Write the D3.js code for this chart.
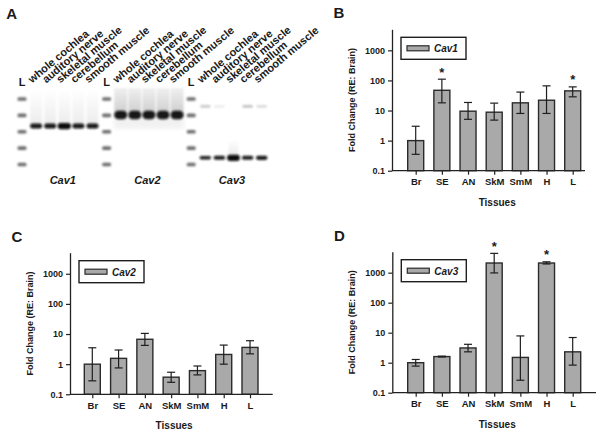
<!DOCTYPE html>
<html><head><meta charset="utf-8">
<script src="https://cdn.jsdelivr.net/npm/d3@7"></script>
<style>
body{margin:0;background:#fff}
svg{display:block}
text{font-family:Arial,"Liberation Sans",sans-serif;font-weight:bold;fill:#1a1a1a}
</style>
</head><body>
<svg id="c" width="604" height="436"></svg>
<script>
// ---------- data ----------
const tissues = ["Br","SE","AN","SkM","SmM","H","L"];

const cav1Mean = [1.0, 47, 9.5, 8.8, 18, 22, 45];
const cav1Low  = [0.35, 18, 5.1, 4.8, 8, 8, 28.5];
const cav1High = [3.0, 110, 18.5, 17.6, 41, 66, 61];
const cav1Sig  = [0, 1, 0, 0, 0, 0, 1];

const cav2Mean = [1.0, 1.56, 6.7, 0.37, 0.61, 2.1, 3.6];
const cav2Low  = [0.28, 0.75, 4.2, 0.25, 0.44, 1.0, 2.2];
const cav2High = [3.5, 2.95, 10.5, 0.54, 0.87, 4.3, 6.0];
const cav2Sig  = [0, 0, 0, 0, 0, 0, 0];

const cav3Mean = [1.0, 1.6, 3.1, 2100, 1.5, 2100, 2.3];
const cav3Low  = [0.77, 1.55, 2.3, 980, 0.26, 1950, 0.83];
const cav3High = [1.28, 1.65, 4.1, 4400, 7.8, 2300, 6.9];
const cav3Sig  = [0, 0, 0, 1, 0, 1, 0];

const yTicks = [0.1, 1, 10, 100, 1000];
const yTickLabels = ["0.1", "1", "10", "100", "1000"];

// gel data
const genes = ["Cav1", "Cav2", "Cav3"];
const laneLabels = ["whole cochlea", "auditory nerve", "skeletal muscle", "cerebellum", "smooth muscle"];
const ladderSizes = [500, 400, 300, 200, 100];
const productSize = [335, 402, 141];
const cav1Band = [1.0, 1.0, 1.25, 1.0, 1.0];
const cav2Band = [1.0, 1.0, 1.0, 1.0, 1.0];
const cav3Band = [0.8, 0.85, 1.4, 0.85, 0.95];
const cav3FaintSize = 455;
const cav3Faint = [0.22, 0.08, 0.0, 0.25, 0.15];

// ---------- drawing ----------
const svg = d3.select("#c");
const defs = svg.append("defs");
defs.append("filter").attr("id","blur").attr("x","-50%").attr("y","-100%").attr("width","200%").attr("height","300%")
  .append("feGaussianBlur").attr("stdDeviation", 1.1);
defs.append("filter").attr("id","blur2").attr("x","-50%").attr("y","-50%").attr("width","200%").attr("height","200%")
  .append("feGaussianBlur").attr("stdDeviation", 2);
const g1 = defs.append("linearGradient").attr("id","smear1").attr("x1",0).attr("x2",0).attr("y1",0).attr("y2",1);
g1.append("stop").attr("offset","0%").attr("stop-color","#000").attr("stop-opacity",0);
g1.append("stop").attr("offset","100%").attr("stop-color","#000").attr("stop-opacity",0.08);
const g2 = defs.append("linearGradient").attr("id","smear2").attr("x1",0).attr("x2",0).attr("y1",0).attr("y2",1);
g2.append("stop").attr("offset","0%").attr("stop-color","#000").attr("stop-opacity",0.06);
g2.append("stop").attr("offset","100%").attr("stop-color","#000").attr("stop-opacity",0.2);

// ----- Panel A: gel -----
const gelX = d3.scalePoint().domain(d3.range(18)).range([22, 261.7]);
const gelY = d3.scaleLinear().domain([500, 100]).range([99, 164.5]);
const gelBands = [cav1Band, cav2Band, cav3Band];
const bandW = [12, 13, 11.5];
const bandH = [5, 8.5, 4.5];

svg.append("text").attr("x", 11.7).attr("y", 19).attr("text-anchor","middle")
  .style("font-size","15px").text("A");

const gel = svg.append("g");
genes.forEach((gene, gi) => {
  const base = gi * 6;
  const lx = gelX(base);
  // ladder
  gel.append("text").attr("x", lx).attr("y", 86).attr("text-anchor","middle")
    .style("font-size","11px").text("L");
  gel.selectAll(null).data(ladderSizes).enter().append("rect")
    .attr("x", lx - 4.5).attr("y", d => gelY(d) - 1.8)
    .attr("width", 9).attr("height", 3.6).attr("rx", 1.5)
    .attr("fill", "#333").attr("opacity", 0.7).attr("filter","url(#blur)");
  if (gi === 1) {
    gel.append("rect").attr("x", gelX(base+1) - 7).attr("y", gelY(productSize[gi]))
      .attr("width", gelX(base+5) - gelX(base+1) + 14).attr("height", 14)
      .attr("fill","#000").attr("opacity",0.05).attr("filter","url(#blur2)");
  }
  laneLabels.forEach((lab, li) => {
    const x = gelX(base + 1 + li);
    if (gi === 0) {
      gel.append("rect").attr("x", x - 6).attr("y", 90).attr("width", 12)
        .attr("height", gelY(productSize[gi]) - 90).attr("fill","url(#smear1)").attr("filter","url(#blur)");
    }
    if (gi === 1) {
      gel.append("rect").attr("x", x - 6.5).attr("y", 88).attr("width", 13)
        .attr("height", gelY(productSize[gi]) - 88).attr("fill","url(#smear2)").attr("filter","url(#blur)");
    }
    const k = gelBands[gi][li];
    const w = bandW[gi] * (k > 1.1 ? 1.12 : 1);
    const h = bandH[gi] * k;
    if (gi === 2 && k > 1.1) {
      gel.append("rect").attr("x", x - 5).attr("y", gelY(productSize[gi]) - 18)
        .attr("width", 10).attr("height", 16).attr("fill","url(#smear1)").attr("filter","url(#blur)");
    }
    gel.append("rect").attr("x", x - w/2).attr("y", gelY(productSize[gi]) - h/2)
      .attr("width", w).attr("height", h).attr("rx", h/2)
      .attr("fill", "#0d0d0d").attr("opacity", Math.min(1, 0.75 + 0.2*k)).attr("filter","url(#blur)");
    if (gi === 2 && cav3Faint[li] > 0) {
      gel.append("rect").attr("x", x - 5).attr("y", gelY(cav3FaintSize) - 1.3)
        .attr("width", 10).attr("height", 2.6).attr("fill","#000")
        .attr("opacity", cav3Faint[li]).attr("filter","url(#blur)");
    }
    gel.append("text").attr("transform", `translate(${x - 4},83.5) rotate(-40)`)
      .style("font-size","11px").text(lab);
  });
  gel.append("text").attr("x", (gelX(base+1) + gelX(base+5))/2 - 1.5).attr("y", 184)
    .attr("text-anchor","middle").style("font-size","11px").style("font-style","italic").text(gene);
});

// ----- Panels B, C, D: bar charts -----
function drawPanel(cfg, mean, low, high, sig, gene) {
  const g = svg.append("g");
  const y = d3.scaleLog().domain([0.1, 5000]).range([cfg.bottom, cfg.top]);
  const x = d3.scalePoint().domain(tissues).range([cfg.x0, cfg.x1]);
  const bw = 16;

  g.append("text").attr("x", cfg.axisX - 53).attr("y", cfg.top - 11)
    .attr("text-anchor","middle").style("font-size","15px").text(cfg.label);

  g.selectAll(".bar").data(tissues).enter().append("rect")
    .attr("x", d => x(d) - bw/2).attr("y", (d,i) => y(mean[i]))
    .attr("width", bw).attr("height", (d,i) => cfg.bottom - y(mean[i]))
    .attr("fill", "#a9a9a9").attr("stroke", "#2b2b2b").attr("stroke-width", 1.4);

  const eb = g.selectAll(".eb").data(tissues).enter().append("g")
    .attr("stroke", "#1e1e1e").attr("stroke-width", 1.2);
  eb.append("line").attr("x1", d => x(d)).attr("x2", d => x(d))
    .attr("y1", (d,i) => y(low[i])).attr("y2", (d,i) => y(high[i]));
  eb.append("line").attr("x1", d => x(d) - 4).attr("x2", d => x(d) + 4)
    .attr("y1", (d,i) => y(low[i])).attr("y2", (d,i) => y(low[i]));
  eb.append("line").attr("x1", d => x(d) - 4).attr("x2", d => x(d) + 4)
    .attr("y1", (d,i) => y(high[i])).attr("y2", (d,i) => y(high[i]));

  g.selectAll(".star").data(tissues.filter((d,i) => sig[i])).enter().append("text")
    .attr("x", d => x(d)).attr("y", d => y(high[tissues.indexOf(d)]) - 2.5)
    .attr("text-anchor","middle").style("font-size","13px").text("*");

  const ya = g.append("g").attr("transform", `translate(${cfg.axisX},0)`)
    .call(d3.axisLeft(y).tickValues(yTicks).tickFormat((d,i) => yTickLabels[i]).tickSize(4).tickSizeOuter(0).tickPadding(3));
  ya.select(".domain").attr("stroke","#222").attr("stroke-width",1.3);
  ya.selectAll(".tick line").attr("stroke","#222").attr("stroke-width",1.2);
  ya.selectAll(".tick text").style("font-size","9px").style("font-family","Arial, 'Liberation Sans', sans-serif").attr("fill","#1a1a1a");

  const xa = g.append("g").attr("transform", `translate(0,${cfg.bottom})`)
    .call(d3.axisBottom(x).tickSize(4).tickSizeOuter(0).tickPadding(4));
  xa.select(".domain").remove();
  xa.append("line").attr("x1", cfg.axisX).attr("x2", cfg.xEnd).attr("y1", 0).attr("y2", 0)
    .attr("stroke","#222").attr("stroke-width",1.3);
  xa.selectAll(".tick line").attr("stroke","#222").attr("stroke-width",1.2);
  xa.selectAll(".tick text").style("font-size","9.5px").style("font-family","Arial, 'Liberation Sans', sans-serif").attr("fill","#1a1a1a");

  g.append("text").attr("transform", `translate(${cfg.axisX - 40},${(cfg.top + cfg.bottom)/2}) rotate(-90)`)
    .attr("dy","0.35em").attr("text-anchor","middle").style("font-size","9px").text("Fold Change (RE: Brain)");
  g.append("text").attr("x", (cfg.x0 + cfg.x1)/2 + 3).attr("y", cfg.bottom + 35)
    .attr("text-anchor","middle").style("font-size","10px").text("Tissues");

  const lg = g.append("g").attr("transform", `translate(${cfg.axisX + 9},${cfg.top + 8})`);
  lg.append("rect").attr("width", 65).attr("height", 22).attr("fill","#fff")
    .attr("stroke","#1e1e1e").attr("stroke-width",1.4);
  lg.append("rect").attr("x", 6).attr("y", 8.5).attr("width", 22).attr("height", 5)
    .attr("fill","#a9a9a9").attr("stroke","#2b2b2b").attr("stroke-width",1.2);
  lg.append("text").attr("x", 33).attr("y", 15).style("font-size","10px").style("font-style","italic").text(gene);
}

drawPanel({label:"B", axisX:392, top:29.3, bottom:170.7, x0:415.7, x1:572.7, xEnd:585},
  cav1Mean, cav1Low, cav1High, cav1Sig, "Cav1");
drawPanel({label:"C", axisX:70, top:252.7, bottom:394.3, x0:92.3, x1:250, xEnd:272.7},
  cav2Mean, cav2Low, cav2High, cav2Sig, "Cav2");
drawPanel({label:"D", axisX:392.3, top:251.7, bottom:392.7, x0:415.7, x1:572.7, xEnd:596},
  cav3Mean, cav3Low, cav3High, cav3Sig, "Cav3");
</script>
</body></html>
